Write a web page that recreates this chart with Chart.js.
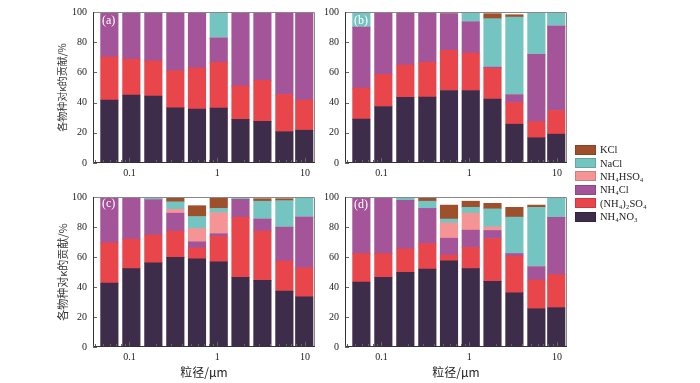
<!DOCTYPE html>
<html><head><meta charset="utf-8">
<script src="https://cdn.jsdelivr.net/npm/chart.js@4/dist/chart.umd.min.js"></script>
<style>
html,body{margin:0;padding:0;background:#fff}
body{width:700px;height:383px;position:relative;overflow:hidden;font-family:"Liberation Serif",serif}
canvas{position:absolute}
.lab{position:absolute;color:#fff;font:12px "Liberation Serif",serif;line-height:12px}
#legend{position:absolute;left:575px;top:143px;font:10.5px "Liberation Serif",serif;color:#222}
.row{height:13.4px;display:flex;align-items:center;white-space:nowrap}
.sw{width:21px;height:10px;margin-right:4px;box-sizing:border-box;border:1px solid rgba(0,0,0,0.15)}
</style></head><body>
<canvas id="ca" width="322" height="185" style="left:0;top:0;width:322px;height:185px"></canvas>
<canvas id="cb" width="258" height="185" style="left:322px;top:0;width:258px;height:185px"></canvas>
<canvas id="cc" width="322" height="198" style="left:0;top:185px;width:322px;height:198px"></canvas>
<canvas id="cd" width="258" height="198" style="left:322px;top:185px;width:258px;height:198px"></canvas>
<div class="lab" style="left:102px;top:14px">(a)</div>
<div class="lab" style="left:354px;top:14px">(b)</div>
<div class="lab" style="left:102px;top:197px">(c)</div>
<div class="lab" style="left:354px;top:198px">(d)</div>
<div id="legend"></div>
<script>
// ---- data ----
const sizes = [0.059, 0.105, 0.187, 0.333, 0.588, 1.04, 1.84, 3.27, 5.82, 9.8]; // particle size, μm
const seriesNames = ['NH₄NO₃', '(NH₄)₂SO₄', 'NH₄Cl', 'NH₄HSO₄', 'NaCl', 'KCl'];
const xTickValues = [0.1, 1, 10];
const yTickValues = [0, 20, 40, 60, 80, 100];

// panel (a)
const a_NH4NO3   = [41.7, 45.0, 44.3, 36.5, 35.7, 36.3, 28.9, 27.6, 20.7, 21.7];
const a_NH42SO4  = [28.5, 23.7, 23.3, 24.6, 27.3, 30.4, 22.2, 27.2, 24.7, 20.0];
const a_NH4Cl    = [29.8, 31.3, 32.4, 38.9, 37.0, 16.1, 48.9, 45.2, 54.6, 58.3];
const a_NH4HSO4  = [0, 0, 0, 0, 0, 0, 0, 0, 0, 0];
const a_NaCl     = [0, 0, 0, 0, 0, 17.2, 0, 0, 0, 0];
const a_KCl      = [0, 0, 0, 0, 0, 0, 0, 0, 0, 0];
// panel (b)
const b_NH4NO3   = [29.1, 37.4, 43.5, 43.7, 48.0, 48.0, 42.4, 25.7, 16.7, 19.1];
const b_NH42SO4  = [20.5, 21.3, 21.5, 23.0, 26.6, 24.8, 20.2, 14.3, 10.7, 15.7];
const b_NH4Cl    = [40.4, 41.3, 35.0, 33.3, 24.3, 20.7, 0.9, 5.2, 44.6, 55.9];
const b_NH4HSO4  = [0, 0, 0, 0, 0, 0, 0, 0, 0, 0];
const b_NaCl     = [10.0, 0, 0, 0, 1.1, 6.5, 32.1, 51.5, 28.0, 9.3];
const b_KCl      = [0, 0, 0, 0, 0, 0, 3.3, 1.5, 0, 0];
// panel (c)
const c_NH4NO3   = [42.6, 52.2, 56.1, 59.7, 58.7, 56.7, 46.5, 44.4, 37.2, 33.5];
const c_NH42SO4  = [26.9, 19.7, 18.6, 17.6, 7.3, 16.9, 39.9, 32.9, 20.2, 19.3];
const c_NH4Cl    = [30.5, 28.1, 23.5, 11.9, 4.1, 1.9, 12.1, 8.0, 22.5, 33.8];
const c_NH4HSO4  = [0, 0, 0, 2.6, 8.9, 14.1, 0, 0, 0, 0];
const c_NaCl     = [0, 0, 1.0, 5.0, 8.0, 2.8, 1.5, 11.9, 17.7, 13.4];
const c_KCl      = [0, 0, 0.8, 3.2, 7.2, 7.0, 0, 1.7, 1.3, 0];
// panel (d)
const d_NH4NO3   = [43.3, 46.5, 49.8, 51.9, 57.4, 52.2, 43.7, 36.1, 25.5, 26.2];
const d_NH42SO4  = [19.0, 15.8, 15.6, 17.1, 3.9, 14.2, 28.6, 24.5, 19.1, 22.1];
const d_NH4Cl    = [37.7, 37.7, 32.4, 23.4, 11.2, 11.5, 5.4, 1.7, 8.9, 38.1];
const d_NH4HSO4  = [0, 0, 0, 0, 10.2, 11.3, 2.4, 0, 0, 0];
const d_NaCl     = [0, 0, 1.3, 4.8, 2.6, 3.9, 12.0, 24.3, 39.6, 13.6];
const d_KCl      = [0, 0, 0.9, 2.8, 9.3, 4.1, 3.7, 6.5, 1.5, 0];

// ---- styles ----
const colors = ['#3E2C4B', '#E8464B', '#A4559A', '#F49494', '#74C5C2', '#9E4F2C'];
const serif = '"Liberation Serif", "Noto Sans CJK SC", serif';
const cjk = '"Noto Sans CJK SC", "Liberation Serif", sans-serif';
const xMin = 0.0384, xMax = 13.0;

const framePlugin = {
  id: 'frame',
  afterDatasetsDraw(chart) {
    const {ctx, chartArea: a, scales: {x, y}} = chart;
    ctx.save();
    ctx.lineWidth = 1;
    ctx.strokeStyle = '#666';
    ctx.beginPath();
    for (const v of yTickValues) {
      const py = Math.round(y.getPixelForValue(v)) + 0.5;
      ctx.moveTo(a.left, py); ctx.lineTo(a.left + 4, py);
    }
    for (let e = -2; e <= 1; e++) {
      for (let m = 1; m <= 9; m++) {
        const v = m * Math.pow(10, e);
        if (v < xMin || v > xMax) continue;
        const px = Math.round(x.getPixelForValue(v)) + 0.5;
        const len = m === 1 ? 5 : 3;
        ctx.moveTo(px, a.bottom); ctx.lineTo(px, a.bottom - len);
      }
    }
    ctx.stroke();
    ctx.strokeStyle = '#888';
    ctx.beginPath();
    ctx.moveTo(a.left, a.top + 0.5); ctx.lineTo(a.right - 0.5, a.top + 0.5); ctx.lineTo(a.right - 0.5, a.bottom);
    ctx.stroke();
    ctx.strokeStyle = '#333';
    ctx.beginPath();
    ctx.moveTo(a.left + 0.5, a.top); ctx.lineTo(a.left + 0.5, a.bottom - 0.5); ctx.lineTo(a.right, a.bottom - 0.5);
    ctx.stroke();
    ctx.restore();
  }
};

function makeChart(id, series, o) {
  new Chart(document.getElementById(id), {
    type: 'bar',
    data: {
      labels: sizes,
      datasets: series.map((d, i) => ({
        label: seriesNames[i], data: d, backgroundColor: colors[i],
        borderWidth: 0, barThickness: 17.5
      }))
    },
    options: {
      responsive: false, animation: false, devicePixelRatio: 1,
      layout: {padding: {top: o.pt, right: o.pr, left: 0, bottom: 0}},
      plugins: {legend: {display: false}, tooltip: {enabled: false}},
      scales: {
        x: {
          type: 'logarithmic', stacked: true, min: xMin, max: xMax, offset: false,
          afterBuildTicks: s => { s.ticks = xTickValues.map(v => ({value: v, major: true})); },
          ticks: {autoSkip: false, maxRotation: 0, padding: 4, color: '#222',
                  font: {family: serif, size: 10}, callback: v => String(v)},
          grid: {display: false, drawTicks: false, offset: false},
          border: {display: false},
          title: {display: o.xTitle, text: '粒径/μm', color: '#222',
                  font: {family: cjk, size: 12}, padding: {top: 0, bottom: 3}},
          afterFit: s => { s.height = o.xh; }
        },
        y: {
          stacked: true, min: 0, max: 100,
          afterBuildTicks: s => { s.ticks = yTickValues.map(v => ({value: v})); },
          ticks: {padding: 6, color: '#222', font: {family: serif, size: 10}},
          grid: {display: false, drawTicks: false},
          border: {display: false},
          title: {display: o.yTitle, text: '各物种对κ的贡献/%', color: '#333',
                  font: {family: cjk, size: o.ytSize}, padding: {top: 56, bottom: 0}},
          afterFit: s => { s.width = o.yw; }
        }
      }
    },
    plugins: [framePlugin]
  });
}

makeChart('ca', [a_NH4NO3, a_NH42SO4, a_NH4Cl, a_NH4HSO4, a_NaCl, a_KCl],
  {pt: 10, pr: 7, xh: 22, yw: 93, xTitle: false, yTitle: true, ytSize: 10});
makeChart('cb', [b_NH4NO3, b_NH42SO4, b_NH4Cl, b_NH4HSO4, b_NaCl, b_KCl],
  {pt: 10, pr: 13, xh: 22, yw: 23, xTitle: false, yTitle: false, ytSize: 10});
makeChart('cc', [c_NH4NO3, c_NH42SO4, c_NH4Cl, c_NH4HSO4, c_NaCl, c_KCl],
  {pt: 8, pr: 7, xh: 36, yw: 93, xTitle: true, yTitle: true, ytSize: 11});
makeChart('cd', [d_NH4NO3, d_NH42SO4, d_NH4Cl, d_NH4HSO4, d_NaCl, d_KCl],
  {pt: 8, pr: 13, xh: 36, yw: 23, xTitle: true, yTitle: false, ytSize: 10});

// legend (top to bottom: KCl ... NH4NO3)
const leg = document.getElementById('legend');
for (let i = seriesNames.length - 1; i >= 0; i--) {
  const row = document.createElement('div');
  row.className = 'row';
  const sw = document.createElement('span');
  sw.className = 'sw'; sw.style.background = colors[i];
  const tx = document.createElement('span');
  tx.textContent = seriesNames[i];
  row.appendChild(sw); row.appendChild(tx);
  leg.appendChild(row);
}
</script>
</body></html>
